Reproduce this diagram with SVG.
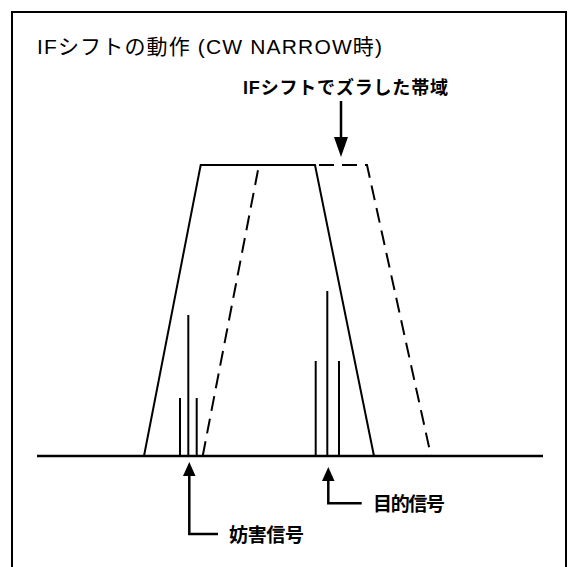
<svg xmlns="http://www.w3.org/2000/svg" width="570" height="567" viewBox="0 0 570 567">
<defs>
<style>
.t{font-family:"Liberation Sans","Noto Sans CJK JP",sans-serif;fill:#000;font-weight:bold}
.tt{font-family:"Liberation Sans","Noto Sans CJK JP",sans-serif;fill:#000;font-weight:normal}
.s{fill:none;stroke:#000;stroke-width:2;stroke-linejoin:miter}
.d{fill:none;stroke:#000;stroke-width:2;stroke-dasharray:15 8}
.a{fill:none;stroke:#000;stroke-width:2.5}
.h{fill:#000;stroke:none}
</style>
</defs>
<rect width="570" height="567" fill="#fff"/>
<rect x="12" y="12" width="554" height="560" fill="none" stroke="#000" stroke-width="2"/>
<g id="title"><text class="tt" x="37" y="54" font-size="21" textLength="345" lengthAdjust="spacing">IFシフトの動作 (CW NARROW時)</text></g>
<g id="axis"><line x1="37" y1="456" x2="543" y2="456" stroke="#000" stroke-width="2.5"/></g>
<g id="passband"><path class="s" d="M144 456 L200.7 165 H315 L374 456"/></g>
<g id="shifted-band">
<path class="d" d="M202.7 456 L259 165"/>
<path class="d" d="M315 165 H367 L431 456" stroke-dashoffset="-4"/>
</g>
<g id="interference-signals">
<line class="s" x1="180" y1="456" x2="180" y2="398"/>
<line class="s" x1="188.3" y1="456" x2="188.3" y2="315"/>
<line class="s" x1="196.7" y1="456" x2="196.7" y2="398"/>
</g>
<g id="target-signals">
<line class="s" x1="315.7" y1="456" x2="315.7" y2="361"/>
<line class="s" x1="327.3" y1="456" x2="327.3" y2="291"/>
<line class="s" x1="339" y1="456" x2="339" y2="361"/>
</g>
<g id="label-shift"><text class="t" x="243" y="94" font-size="18" textLength="205" lengthAdjust="spacing">IFシフトでズラした帯域</text></g>
<g id="label-target"><text class="t" x="373" y="511" font-size="19" textLength="72" lengthAdjust="spacing">目的信号</text></g>
<g id="label-interference"><text class="t" x="229" y="542" font-size="19" textLength="75" lengthAdjust="spacing">妨害信号</text></g>
<g id="connectors">
<path class="a" d="M341 101 V140"/>
<polygon class="h" points="334,137 348,137 341,157"/>
<path class="a" d="M189.3 474 V534 H218"/>
<polygon class="h" points="183,476 195.5,476 189.3,462"/>
<path class="a" d="M328.3 479 V503.3 H361.7"/>
<polygon class="h" points="322,481 334.5,481 328.3,467"/>
</g>
</svg>
